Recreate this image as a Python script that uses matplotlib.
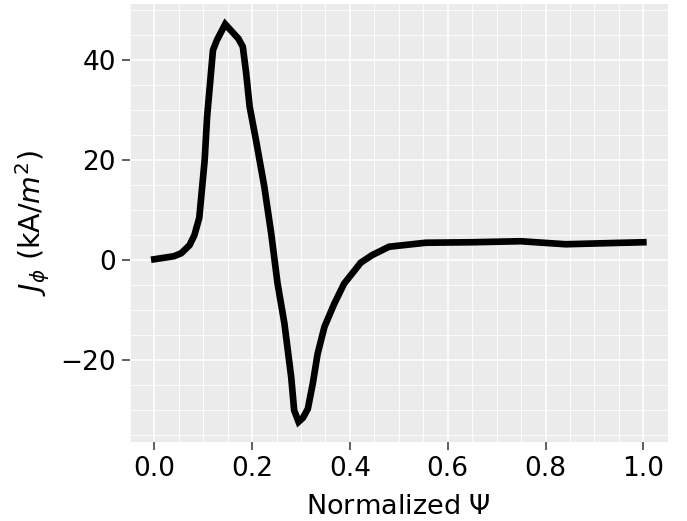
import matplotlib
matplotlib.use("Agg")
import matplotlib.pyplot as plt
from matplotlib.ticker import MultipleLocator

# normalized flux and toroidal current density
psi_norm = [0.0, 0.04, 0.055, 0.072, 0.082, 0.092, 0.096, 0.103, 0.108,
            0.12, 0.128, 0.145, 0.172, 0.181, 0.188, 0.195, 0.208, 0.225,
            0.239, 0.252, 0.266, 0.28, 0.286, 0.295, 0.304, 0.314, 0.324,
            0.334, 0.348, 0.368, 0.388, 0.422, 0.445, 0.48, 0.555, 0.65,
            0.749, 0.841, 0.92, 1.0]
j_phi = [0.2, 0.8, 1.4, 3.0, 5.0, 8.5, 12.7, 20.0, 28.7,
         42.0, 44.0, 47.2, 44.3, 42.7, 37.3, 30.7, 24.0, 14.7,
         5.4, -4.6, -12.6, -23.4, -30.0, -32.3, -31.5, -29.7, -24.7,
         -18.7, -13.3, -8.7, -4.7, -0.5, 1.0, 2.7, 3.5, 3.6,
         3.8, 3.2, 3.4, 3.6]

fig = plt.figure(figsize=(6.87, 5.21), dpi=100)
ax = fig.add_axes([0.189, 0.152, 0.783, 0.840])
ax.set_facecolor('#EBEBEB')
for s in ax.spines.values():
    s.set_visible(False)

ax.plot(psi_norm, j_phi, color='black', linewidth=4.8, solid_joinstyle='miter')

ax.xaxis.set_major_locator(MultipleLocator(0.2))
ax.xaxis.set_minor_locator(MultipleLocator(0.05))
ax.yaxis.set_major_locator(MultipleLocator(20))
ax.yaxis.set_minor_locator(MultipleLocator(5))
ax.grid(True, which='major', color='white', linewidth=1.1)
ax.grid(True, which='minor', color='white', linewidth=0.6)
ax.set_axisbelow(True)
ax.tick_params(which='minor', length=0)
ax.tick_params(which='major', length=6, width=1.2, color='#444444',
               labelsize=19, labelcolor='black', pad=4)

ax.set_xlim(-0.05, 1.05)
ax.set_ylim(-36.3, 51.2)
ax.set_xlabel(r'Normalized $\Psi$', fontsize=19.5, labelpad=9)
ax.set_ylabel(r'$J_\phi$ (kA/$m^2$)', fontsize=20.5, labelpad=6)

fig.savefig('out.png', dpi=100)
